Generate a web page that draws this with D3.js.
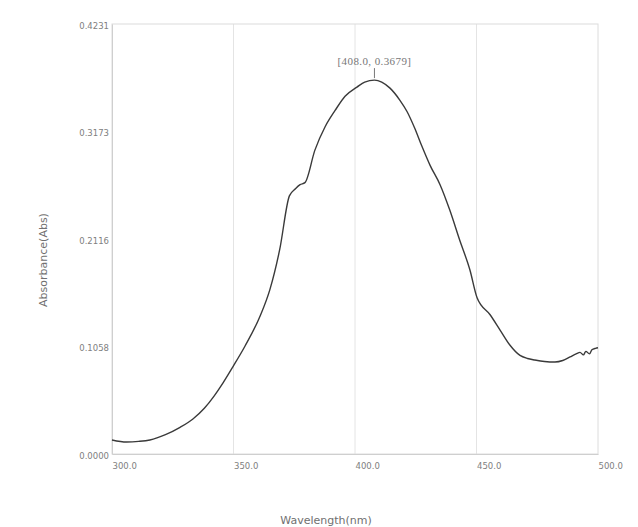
<!DOCTYPE html>
<html>
<head>
<meta charset="utf-8">
<script src="https://cdn.jsdelivr.net/npm/d3@7"></script>
<style>
  body { margin: 0; background: #fff; }
  .tick text { fill: #808080; font-family: 'DejaVu Sans', sans-serif; font-size: 8.5px; }
  .title { fill: #707070; font-family: 'DejaVu Sans', sans-serif; font-size: 11px; }
</style>
</head>
<body>
<div id="chart"></div>
<script>
const width = 638;
const height = 527;

// wavelength (nm) and absorbance
const wavelength = [300, 306, 311, 315.6, 322, 328, 333.3, 338, 342, 345.7, 349.8, 354.7, 361, 365, 369, 373, 375.5, 377.4, 379.4,
  383.5, 387.7, 391.8, 395.9, 400.8, 404, 408, 411, 414.4, 418.5, 421.4, 424.5, 427.5, 430.9, 435, 439, 443, 447.3, 450.2,
  455.6, 459.7, 463.8, 467.9, 471, 474, 478, 482.3, 485.5, 488.5, 491, 492.6, 494, 495, 496.5, 497.5, 499, 500];
const absorbance = [0.0138, 0.0118, 0.0124, 0.0138, 0.0190, 0.0262, 0.0345, 0.0450, 0.0570, 0.0700, 0.0860, 0.1060, 0.1360,
  0.1620, 0.2010, 0.2540, 0.2610, 0.2650, 0.2670, 0.2990, 0.3220, 0.3380, 0.3520, 0.3610, 0.3660, 0.3679, 0.3660, 0.3600,
  0.3480, 0.3370, 0.3210, 0.3030, 0.2840, 0.2650, 0.2400, 0.2110, 0.1810, 0.1540, 0.1370, 0.1220, 0.1070, 0.0970, 0.0940,
  0.0925, 0.0910, 0.0905, 0.0920, 0.0955, 0.0985, 0.1000, 0.0975, 0.1010, 0.0985, 0.1025, 0.1040, 0.1045];

const xTicks = [300, 350, 400, 450, 500];
const yTicks = [0, 0.1058, 0.2116, 0.3173, 0.4231];
const peak = [408.0, 0.3679];

const margin = { top: 24, right: 40, bottom: 73, left: 112 };

const svg = d3.select('#chart').append('svg')
  .attr('width', width)
  .attr('height', height);

const x = d3.scaleLinear().domain([300, 500]).range([margin.left, width - margin.right]);
const y = d3.scaleLinear().domain([0, 0.4231]).range([height - margin.bottom, margin.top]);

// vertical grid
svg.append('g')
  .selectAll('line')
  .data(xTicks.slice(1, -1))
  .join('line')
  .attr('x1', (d) => x(d)).attr('x2', (d) => x(d))
  .attr('y1', y(0.4231)).attr('y2', y(0))
  .attr('stroke', '#e4e4e4');

// frame
svg.append('rect')
  .attr('x', x(300)).attr('y', y(0.4231))
  .attr('width', x(500) - x(300)).attr('height', y(0) - y(0.4231))
  .attr('fill', 'none').attr('stroke', '#dcdcdc');

const xAxis = svg.append('g')
  .attr('transform', `translate(0,${y(0)})`)
  .call(d3.axisBottom(x).tickValues(xTicks).tickSize(0).tickPadding(9).tickFormat(d3.format('.1f')));
xAxis.select('.domain').attr('stroke', '#cfcfcf');
xAxis.selectAll('.tick text').attr('text-anchor', 'start');

const yAxis = svg.append('g')
  .attr('transform', `translate(${x(300)},0)`)
  .call(d3.axisLeft(y).tickValues(yTicks).tickSize(0).tickPadding(3).tickFormat(d3.format('.4f')));
yAxis.select('.domain').attr('stroke', '#cfcfcf');
yAxis.selectAll('.tick text').attr('dy', '0.5em');

const line = d3.line()
  .x((d, i) => x(wavelength[i]))
  .y((d) => y(d))
  .curve(d3.curveMonotoneX);

svg.append('path')
  .datum(absorbance)
  .attr('d', line)
  .attr('fill', 'none')
  .attr('stroke', '#3a3a3a')
  .attr('stroke-width', 1.4);

// peak label
svg.append('line')
  .attr('x1', x(peak[0])).attr('x2', x(peak[0]))
  .attr('y1', y(peak[1]) - 12).attr('y2', y(peak[1]) - 2)
  .attr('stroke', '#777');
svg.append('text')
  .attr('x', x(peak[0])).attr('y', y(peak[1]) - 15)
  .attr('text-anchor', 'middle')
  .attr('fill', '#777')
  .style('font-family', 'Liberation Serif, serif')
  .style('font-size', '11px')
  .style('letter-spacing', '0.4px')
  .text(`[${peak[0].toFixed(1)}, ${peak[1].toFixed(4)}]`);

svg.append('text')
  .attr('class', 'title')
  .attr('x', 326).attr('y', 524)
  .attr('text-anchor', 'middle')
  .text('Wavelength(nm)');

svg.append('text')
  .attr('class', 'title')
  .attr('transform', 'translate(47,260) rotate(-90)')
  .attr('text-anchor', 'middle')
  .text('Absorbance(Abs)');
</script>
</body>
</html>
